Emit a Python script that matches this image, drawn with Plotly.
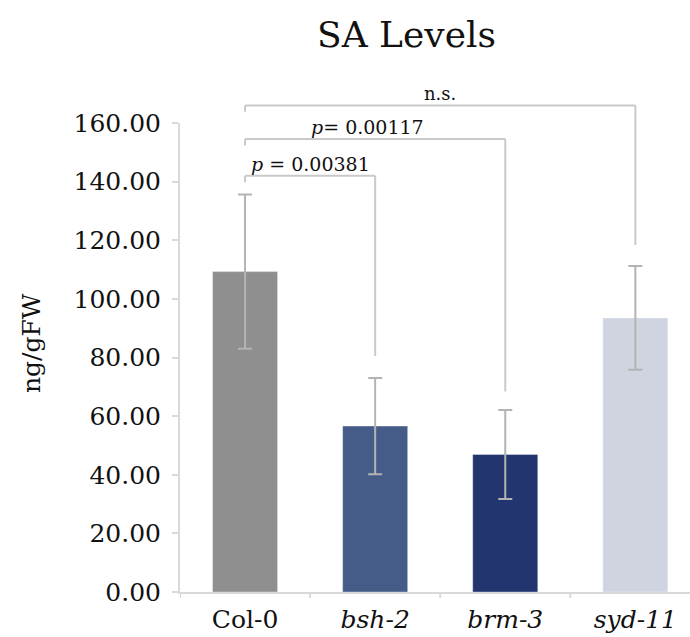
import plotly.graph_objects as go

categories = ["Col-0", "bsh-2", "brm-3", "syd-11"]
tick_labels = ["Col-0", "<i>bsh-2</i>", "<i>brm-3</i>", "<i>syd-11</i>"]
values = [109.3, 56.6, 46.9, 93.5]
errors = [26.3, 16.4, 15.2, 17.7]
bar_colors = ["#8f8f8f", "#465c88", "#22356e", "#cfd4e0"]

# significance brackets: (from index, to index, bracket level, right drop end, label)
br_from = [0, 0, 0]
br_to = [1, 2, 3]
br_level = [142.0, 154.5, 166.0]
br_drop = [80.5, 68.4, 118.4]
br_label = ["<i>p</i> = 0.00381", "<i>p</i>= 0.00117", "n.s."]
br_label_size = [19, 19, 18]
br_label_dx = [0, -0.06, 0]

y_max = 160
FONT = "DejaVu Serif"
LINE = "#c9c9c9"
TXT = "#111111"

fig = go.Figure()
fig.add_trace(go.Bar(
    x=list(range(len(categories))),
    y=values,
    width=0.5,
    marker=dict(color=bar_colors, line=dict(color="rgba(255,255,255,0.35)", width=1)),
    error_y=dict(type="data", array=errors, visible=True, color="#b3b3b3",
                 thickness=2, width=7),
    showlegend=False,
))

def yp(v):
    return v / y_max

shapes = []
annotations = []
for f, t, lv, dr, lab, fs, dx in zip(br_from, br_to, br_level, br_drop, br_label,
                                     br_label_size, br_label_dx):
    line = dict(color=LINE, width=2)
    shapes.append(dict(type="line", xref="x", yref="paper", x0=f, x1=f,
                       y0=yp(lv), y1=yp(lv - 2.2), line=line))
    shapes.append(dict(type="line", xref="x", yref="paper", x0=f, x1=t,
                       y0=yp(lv), y1=yp(lv), line=line))
    shapes.append(dict(type="line", xref="x", yref="paper", x0=t, x1=t,
                       y0=yp(lv), y1=yp(dr), line=line))
    annotations.append(dict(text=lab, xref="x", yref="paper", x=(f + t) / 2 + dx,
                            y=yp(lv), xanchor="center", yanchor="bottom",
                            showarrow=False, yshift=-1,
                            font=dict(family=FONT, size=fs, color=TXT)))

annotations.append(dict(text="SA Levels", xref="paper", yref="paper", x=0.445, y=1.188,
                        xanchor="center", yanchor="middle", showarrow=False,
                        font=dict(family=FONT, size=36, color=TXT)))
annotations.append(dict(text="ng/gFW", xref="paper", yref="paper", x=-0.29, y=0.531,
                        xanchor="center", yanchor="middle", showarrow=False, textangle=-90,
                        font=dict(family=FONT, size=25, color=TXT)))

fig.update_layout(
    width=690, height=637,
    margin=dict(l=180, r=0, t=123, b=45),
    plot_bgcolor="white", paper_bgcolor="white",
    shapes=shapes, annotations=annotations,
    bargap=0.5,
    xaxis=dict(range=[-0.5, 3.42], tickvals=list(range(len(categories))), ticktext=tick_labels,
               showline=True, linecolor="#d9d9d9", linewidth=2, ticks="", showgrid=False,
               zeroline=False, tickfont=dict(family=FONT, size=25, color=TXT),
               ticklabelstandoff=4),
    yaxis=dict(range=[0, y_max], dtick=20, tickformat=".2f", showline=True,
               linecolor="#d9d9d9", linewidth=2, ticks="outside", ticklen=6,
               tickcolor="#d9d9d9", tickwidth=2, showgrid=False, zeroline=False,
               tickfont=dict(family=FONT, size=25, color=TXT), ticklabelstandoff=6),
)

# boundary tick marks on the category axis
for b in [-0.5, 0.5, 1.5, 2.5]:
    fig.add_shape(type="line", xref="x", yref="paper", x0=b, x1=b, y0=0, y1=-6 / 469,
                  line=dict(color="#d9d9d9", width=2))

fig.write_html("out.html")
